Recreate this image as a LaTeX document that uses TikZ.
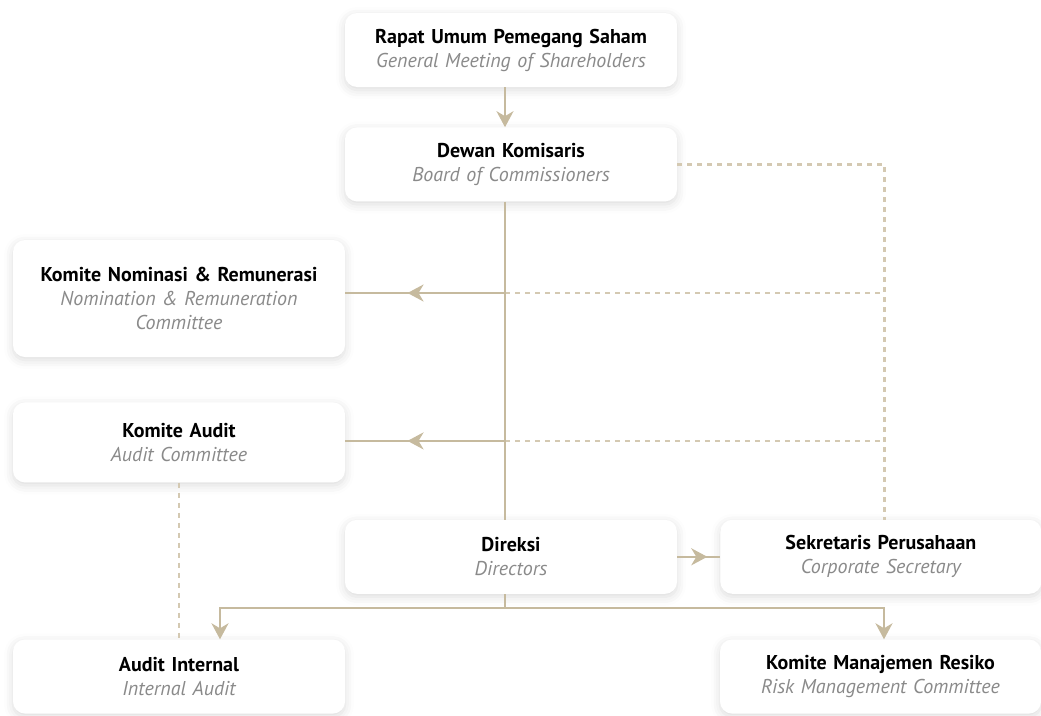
\documentclass[tikz,border=0pt]{standalone}
\usepackage{fontspec}
\setmainfont{PT Sans}
\usepackage{xcolor}
\usepackage{tikz}
\usetikzlibrary{positioning,arrows.meta,decorations.markings,shadows.blur}

\definecolor{linktan}{RGB}{198,186,158}
\definecolor{dashtan}{RGB}{212,201,178}
\definecolor{engray}{RGB}{138,138,138}
\newcommand{\eng}[1]{{\itshape\color{engray}#1}}

\begin{document}
\begin{tikzpicture}[
    x=1pt, y=1pt,
    orgbox/.style={rectangle, fill=white, rounded corners=12pt, minimum width=332pt, minimum height=74pt,
        text width=320pt, align=center, inner sep=0pt,
        font=\fontsize{20}{24}\selectfont,
        blur shadow={shadow xshift=0pt, shadow yshift=-3pt, shadow blur radius=9pt, shadow opacity=14}},
    link/.style={draw=linktan, line width=2.5pt},
    dotlink/.style={draw=dashtan, line width=2.5pt, dash pattern=on 5pt off 5pt},
    tipend/.style={-{Stealth[length=16pt, width=17pt, inset=5pt]}, linktan},
    midarrow/.style={postaction={decorate}, decoration={markings,
        mark=at position #1 with {\arrow[linktan]{Stealth[length=16pt, width=17pt, inset=5pt]}}}}
]
    \useasboundingbox (0,0) rectangle (1041,-715);

    % Main column
    \node [orgbox] (rups) at (511,-50) {\textbf{Rapat Umum Pemegang Saham}\\\eng{General Meeting of Shareholders}};
    \node [orgbox, below=40pt of rups] (dewan) {\textbf{Dewan Komisaris}\\\eng{Board of Commissioners}};
    \node [orgbox, below=318pt of dewan] (direksi) {\textbf{Direksi}\\\eng{Directors}};
    \node [orgbox, right=43pt of direksi, minimum width=321pt] (sekper) {\textbf{Sekretaris Perusahaan}\\\eng{Corporate Secretary}};

    % Committees on the left
    \node [orgbox, minimum height=117pt] (komnom) at (179,-298.5) {\textbf{Komite Nominasi \& Remunerasi}\\\eng{Nomination \& Remuneration}\\\eng{Committee}};
    \node [orgbox, below=45pt of komnom, minimum height=80pt] (komaudit) {\textbf{Komite Audit}\\\eng{Audit Committee}};

    % Bottom row
    \node [orgbox] (audint) at (179,-676.5) {\textbf{Audit Internal}\\\eng{Internal Audit}};
    \node [orgbox, minimum width=321pt] (komrisk) at (880.5,-676.5) {\textbf{Komite Manajemen Resiko}\\\eng{Risk Management Committee}};

    % Helper points for the spine and the dashed return line
    \coordinate (spine) at ([xshift=-6pt]dewan.south);
    \coordinate (secline) at ([xshift=3.5pt]sekper.north);
    \coordinate (tapnom) at ([yshift=5.5pt]komnom.east);
    \coordinate (tapaudit) at ([yshift=1.5pt]komaudit.east);
    \coordinate[below=14pt of direksi.south] (split);

    % Dashed lines
    \draw [dotlink] (dewan.east) -| (secline);
    \draw [dotlink] (spine |- tapnom) -- (secline |- tapnom);
    \draw [dotlink] (spine |- tapaudit) -- (secline |- tapaudit);
    \draw [dotlink] (komaudit.south) -- (audint.north);

    % Solid connections
    \draw [link, tipend] ([xshift=-6pt]rups.south) -- ([xshift=-6pt]dewan.north);
    \draw [link] (spine) -- (spine |- direksi.north);
    \draw [link] (spine |- direksi.south) -- (spine |- split);
    \draw [link, midarrow=0.61] (spine |- tapnom) -- (tapnom);
    \draw [link, midarrow=0.61] (spine |- tapaudit) -- (tapaudit);
    \draw [link, midarrow=0.7] (direksi.east) -- (sekper.west);
    \draw [link, tipend] (spine |- split) -| ([xshift=41pt]audint.north);
    \draw [link, tipend] (spine |- split) -| ([xshift=3.5pt]komrisk.north);
\end{tikzpicture}
\end{document}
